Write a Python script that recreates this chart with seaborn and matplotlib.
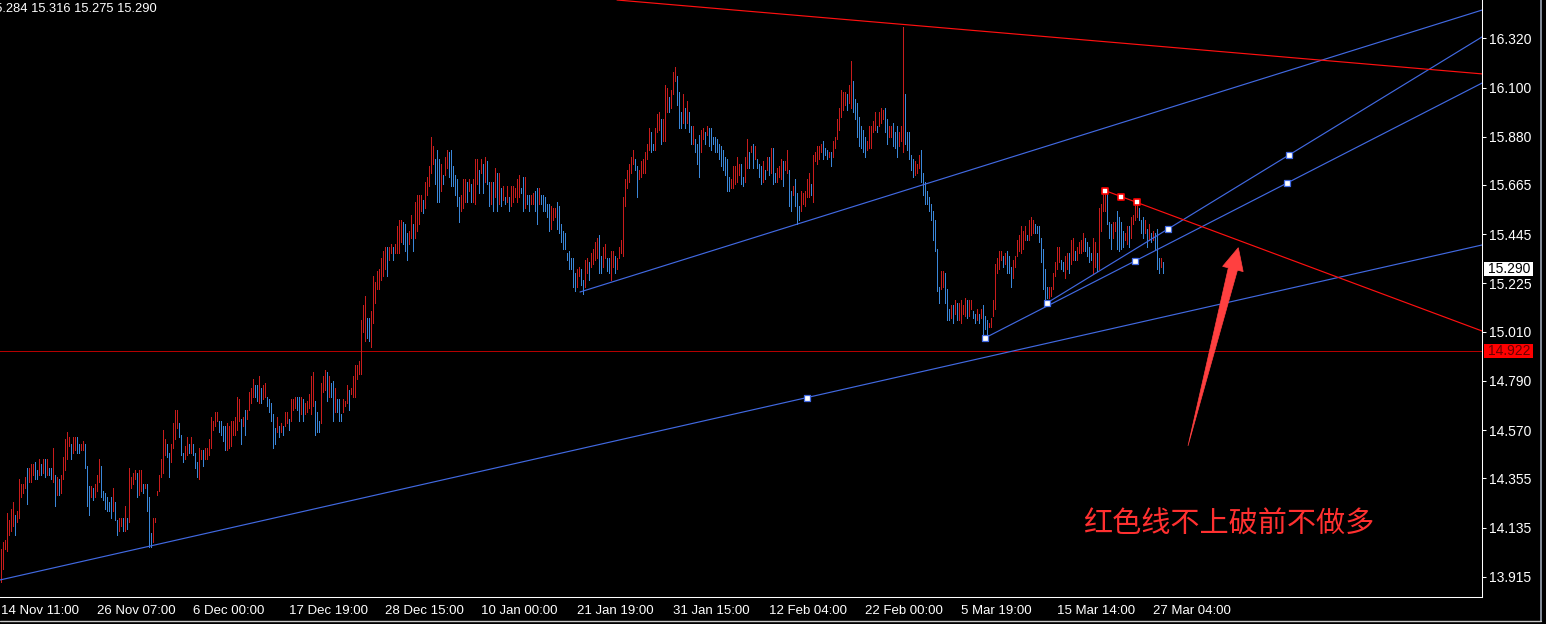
import numpy as np
import pandas as pd
import matplotlib
matplotlib.use("Agg")
import matplotlib.pyplot as plt
import matplotlib.transforms as mtransforms
from matplotlib.patches import Rectangle, Polygon
from matplotlib.lines import Line2D
import seaborn as sns

# ---------------- data ----------------
highs = [
 14.04,14.07,14.08,14.20,14.17,14.22,14.25,14.19,14.21,14.35,14.33,14.33,14.36,14.40,14.40,14.42,14.42,14.43,14.39,14.44,
 14.42,14.44,14.44,14.44,14.40,14.40,14.49,14.37,14.36,14.35,14.37,14.45,14.53,14.56,14.54,14.51,14.54,14.54,14.54,14.51,
 14.51,14.52,14.51,14.41,14.32,14.32,14.31,14.33,14.37,14.44,14.41,14.30,14.29,14.27,14.25,14.27,14.31,14.25,14.17,14.18,
 14.18,14.18,14.23,14.18,14.40,14.36,14.38,14.39,14.38,14.39,14.39,14.33,14.33,14.33,14.27,14.11,14.18,14.18,14.30,14.37,
 14.44,14.57,14.53,14.51,14.47,14.51,14.60,14.66,14.66,14.60,14.55,14.47,14.50,14.54,14.51,14.54,14.51,14.47,14.43,14.49,
 14.48,14.48,14.49,14.49,14.53,14.63,14.61,14.65,14.65,14.61,14.61,14.59,14.59,14.60,14.59,14.61,14.61,14.63,14.72,14.71,
 14.62,14.63,14.66,14.66,14.74,14.76,14.80,14.77,14.77,14.81,14.76,14.77,14.78,14.72,14.71,14.69,14.64,14.58,14.63,14.59,
 14.60,14.59,14.65,14.65,14.62,14.71,14.71,14.72,14.72,14.72,14.72,14.71,14.69,14.70,14.73,14.81,14.83,14.70,14.65,14.61,
 14.78,14.81,14.84,14.83,14.81,14.78,14.79,14.76,14.71,14.71,14.64,14.71,14.70,14.77,14.75,14.76,14.81,14.86,14.86,14.88,
 15.06,15.13,15.17,15.07,15.07,15.10,15.26,15.23,15.28,15.29,15.34,15.37,15.39,15.39,15.39,15.40,15.39,15.40,15.48,15.51,
 15.51,15.50,15.49,15.45,15.46,15.53,15.49,15.59,15.62,15.62,15.62,15.60,15.68,15.70,15.75,15.88,15.84,15.78,15.82,15.78,
 15.76,15.71,15.79,15.82,15.81,15.82,15.75,15.71,15.69,15.61,15.62,15.69,15.69,15.68,15.69,15.67,15.69,15.78,15.78,15.73,
 15.78,15.76,15.79,15.77,15.68,15.68,15.68,15.74,15.72,15.72,15.65,15.66,15.61,15.66,15.61,15.66,15.66,15.65,15.69,15.71,
 15.65,15.70,15.70,15.62,15.62,15.62,15.63,15.64,15.65,15.65,15.62,15.62,15.61,15.58,15.58,15.57,15.56,15.56,15.59,15.57,
 15.49,15.46,15.45,15.36,15.37,15.34,15.34,15.27,15.29,15.30,15.29,15.24,15.33,15.34,15.32,15.36,15.38,15.41,15.43,15.44,
 15.35,15.39,15.40,15.34,15.34,15.37,15.37,15.35,15.34,15.39,15.42,15.61,15.69,15.73,15.76,15.79,15.82,15.78,15.75,15.73,
 15.77,15.78,15.81,15.85,15.92,15.90,15.85,15.92,15.98,15.99,15.96,15.96,16.11,16.10,16.06,16.09,16.17,16.19,16.15,16.08,
 15.99,16.07,16.01,16.04,15.99,15.93,15.93,15.87,15.85,15.89,15.91,15.92,15.90,15.93,15.92,15.92,15.88,15.88,15.87,15.85,
 15.84,15.82,15.79,15.78,15.70,15.69,15.75,15.75,15.79,15.76,15.76,15.70,15.79,15.87,15.81,15.84,15.85,15.84,15.78,15.76,
 15.75,15.77,15.73,15.79,15.79,15.83,15.83,15.72,15.74,15.75,15.78,15.77,15.77,15.82,15.73,15.64,15.66,15.69,15.63,15.57,
 15.64,15.63,15.64,15.69,15.72,15.67,15.80,15.81,15.84,15.84,15.85,15.86,15.83,15.82,15.81,15.81,15.86,15.88,15.96,16.01,
 16.09,16.08,16.08,16.07,16.11,16.22,16.13,16.05,16.03,15.97,15.93,15.91,15.88,15.86,15.93,15.93,15.95,15.99,15.93,15.99,
 16.01,16.00,16.01,15.96,15.93,15.93,15.94,15.90,15.93,15.90,15.93,16.37,16.07,15.90,15.90,15.80,15.78,15.77,15.76,15.80,
 15.82,15.72,15.68,15.64,15.61,15.58,15.55,15.51,15.38,15.21,15.28,15.28,15.27,15.20,15.11,15.13,15.13,15.15,15.14,15.14,
 15.15,15.13,15.16,15.15,15.15,15.15,15.10,15.09,15.11,15.09,15.11,15.13,15.08,15.06,15.05,15.07,15.15,15.31,15.34,15.37,
 15.37,15.35,15.36,15.37,15.35,15.30,15.33,15.35,15.42,15.44,15.48,15.46,15.48,15.44,15.51,15.52,15.51,15.49,15.48,15.48,
 15.43,15.38,15.29,15.21,15.21,15.21,15.27,15.32,15.39,15.39,15.33,15.32,15.35,15.36,15.36,15.42,15.43,15.37,15.39,15.41,
 15.42,15.45,15.43,15.41,15.39,15.36,15.43,15.41,15.36,15.56,15.58,15.64,15.64,15.63,15.50,15.49,15.50,15.50,15.55,15.52,
 15.50,15.46,15.45,15.48,15.48,15.52,15.53,15.59,15.58,15.56,15.51,15.52,15.51,15.47,15.49,15.45,15.46,15.45,15.47,15.34,
 15.34,15.32,
]
lows = [
 13.89,13.95,14.04,14.03,14.10,14.12,14.14,14.10,14.16,14.18,14.27,14.29,14.31,14.24,14.34,14.34,14.37,14.35,14.35,14.37,
 14.37,14.38,14.36,14.37,14.37,14.35,14.34,14.23,14.28,14.28,14.29,14.35,14.39,14.44,14.50,14.44,14.47,14.48,14.47,14.47,
 14.48,14.48,14.40,14.23,14.19,14.27,14.26,14.27,14.30,14.34,14.27,14.26,14.22,14.21,14.21,14.18,14.21,14.17,14.10,14.12,
 14.14,14.12,14.12,14.13,14.16,14.31,14.33,14.35,14.27,14.28,14.30,14.29,14.31,14.21,14.05,14.05,14.07,14.16,14.28,14.30,
 14.36,14.38,14.46,14.45,14.36,14.43,14.49,14.53,14.58,14.54,14.46,14.43,14.44,14.46,14.47,14.47,14.46,14.40,14.36,14.35,
 14.44,14.41,14.44,14.44,14.46,14.49,14.57,14.59,14.61,14.56,14.55,14.52,14.48,14.48,14.49,14.50,14.55,14.55,14.57,14.61,
 14.51,14.59,14.55,14.62,14.66,14.69,14.72,14.72,14.70,14.69,14.69,14.71,14.72,14.68,14.65,14.61,14.49,14.51,14.56,14.54,
 14.56,14.55,14.59,14.60,14.57,14.61,14.66,14.67,14.66,14.61,14.64,14.61,14.64,14.65,14.67,14.64,14.68,14.55,14.56,14.56,
 14.60,14.74,14.75,14.70,14.72,14.72,14.61,14.65,14.65,14.61,14.61,14.65,14.68,14.69,14.66,14.73,14.72,14.72,14.80,14.82,
 14.82,15.01,14.97,14.98,14.97,14.94,15.05,15.14,15.20,15.20,15.24,15.26,15.29,15.26,15.33,15.36,15.33,15.36,15.36,15.36,
 15.41,15.40,15.37,15.33,15.40,15.43,15.37,15.43,15.46,15.49,15.55,15.54,15.56,15.62,15.66,15.72,15.76,15.67,15.59,15.59,
 15.64,15.67,15.71,15.74,15.70,15.66,15.66,15.62,15.57,15.50,15.55,15.56,15.59,15.59,15.64,15.59,15.59,15.58,15.67,15.63,
 15.72,15.63,15.68,15.67,15.57,15.58,15.55,15.61,15.55,15.58,15.57,15.60,15.58,15.59,15.55,15.57,15.59,15.61,15.59,15.61,
 15.63,15.55,15.56,15.58,15.55,15.58,15.58,15.55,15.49,15.58,15.58,15.55,15.55,15.52,15.46,15.47,15.51,15.52,15.47,15.45,
 15.41,15.38,15.38,15.33,15.29,15.29,15.21,15.19,15.21,15.26,15.22,15.18,15.21,15.27,15.24,15.30,15.31,15.33,15.34,15.27,
 15.27,15.30,15.34,15.28,15.27,15.24,15.30,15.27,15.29,15.34,15.36,15.35,15.57,15.65,15.68,15.72,15.76,15.73,15.61,15.69,
 15.70,15.72,15.72,15.78,15.82,15.81,15.82,15.82,15.90,15.91,15.85,15.86,15.86,15.99,15.99,16.01,16.07,16.13,16.02,15.92,
 15.92,15.94,15.92,15.94,15.90,15.85,15.85,15.81,15.76,15.70,15.81,15.87,15.85,15.89,15.84,15.82,15.85,15.81,15.81,15.78,
 15.75,15.73,15.71,15.64,15.64,15.65,15.65,15.67,15.68,15.71,15.67,15.66,15.68,15.74,15.74,15.81,15.74,15.78,15.74,15.70,
 15.67,15.68,15.69,15.73,15.71,15.72,15.67,15.68,15.68,15.70,15.69,15.66,15.73,15.72,15.57,15.55,15.62,15.57,15.49,15.51,
 15.55,15.58,15.57,15.61,15.61,15.62,15.59,15.77,15.76,15.78,15.81,15.78,15.80,15.78,15.79,15.75,15.79,15.83,15.87,15.91,
 15.97,16.00,16.02,16.00,16.03,16.01,15.99,15.96,15.88,15.84,15.83,15.81,15.79,15.82,15.83,15.83,15.90,15.91,15.90,15.93,
 15.94,15.96,15.90,15.85,15.88,15.88,15.84,15.83,15.79,15.84,15.86,15.81,15.85,15.82,15.78,15.73,15.70,15.71,15.72,15.74,
 15.68,15.62,15.58,15.58,15.55,15.51,15.42,15.37,15.19,15.14,15.20,15.21,15.14,15.06,15.06,15.07,15.05,15.09,15.06,15.06,
 15.05,15.09,15.08,15.07,15.08,15.11,15.07,15.05,15.06,15.05,15.07,14.99,15.02,15.00,15.03,15.03,15.08,15.11,15.27,15.29,
 15.33,15.30,15.31,15.27,15.27,15.21,15.25,15.30,15.35,15.37,15.36,15.38,15.42,15.42,15.42,15.44,15.45,15.45,15.45,15.41,
 15.32,15.20,15.14,15.16,15.16,15.17,15.20,15.26,15.29,15.32,15.29,15.28,15.25,15.29,15.27,15.31,15.33,15.33,15.33,15.36,
 15.36,15.37,15.37,15.35,15.32,15.33,15.27,15.30,15.28,15.29,15.46,15.55,15.55,15.49,15.43,15.38,15.43,15.46,15.38,15.37,
 15.38,15.39,15.42,15.40,15.39,15.43,15.49,15.51,15.52,15.51,15.45,15.43,15.45,15.39,15.42,15.41,15.42,15.38,15.29,15.27,
 15.30,15.27,
]

x_tick_bars = [0, 48, 96, 144, 192, 240, 288, 336, 384, 432, 480, 528, 576]
x_tick_labels = ["14 Nov 11:00", "26 Nov 07:00", "6 Dec 00:00", "17 Dec 19:00", "28 Dec 15:00",
                 "10 Jan 00:00", "21 Jan 19:00", "31 Jan 15:00", "12 Feb 04:00", "22 Feb 00:00",
                 "5 Mar 19:00", "15 Mar 14:00", "27 Mar 04:00"]
y_ticks = [16.320, 16.100, 15.880, 15.665, 15.445, 15.225, 15.010, 14.790, 14.570, 14.355, 14.135, 13.915]

ohlc_text = "15.284 15.316 15.275 15.290"
last_price = 15.290
level_price = 14.922

# trend lines: name -> (bar0, price0, bar1, price1)
blue_lines = {
    "long_low":  (-0.65, 13.901, 740.35, 15.397),
    "upper":     (289.35, 15.187, 740.35, 16.446),
    "chan_a":    (491.85, 14.982, 740.35, 16.120),
    "chan_b":    (522.85, 15.138, 740.35, 16.326),
}
red_lines = {
    "top":       (307.85, 16.491, 740.35, 16.161),
    "down":      (551.85, 15.640, 740.35, 15.013),
}
blue_marker_bars = [402.85, 491.85, 566.85, 642.85, 522.85, 583.35, 643.85]
blue_marker_prices = [14.714, 14.982, 15.325, 15.673, 15.138, 15.468, 15.798]
red_marker_bars = [551.85, 559.85, 567.85]
red_marker_prices = [15.640, 15.613, 15.587]

arrow_tail = (593.35, 14.500)
arrow_tip = (618.5, 15.385)
note_text = "红色线不上破前不做多"
note_pos = (613.85, 14.147)

# ---------------- style ----------------
sns.set_theme(style="dark", rc={
    "axes.facecolor": "black", "figure.facecolor": "black",
    "savefig.facecolor": "black", "axes.grid": False,
})
plt.rcParams["font.family"] = ["Liberation Sans", "DejaVu Sans"]

BLUE = "#4169e1"
RED_LINE = "#ff1010"
BAR_UP = "#c81c1c"
BAR_DN = "#3a86d8"

W, H = 1546, 624
fig = plt.figure(figsize=(W / 100, H / 100), dpi=100)
ax = fig.add_axes([0, 27 / H, 1482 / W, 597 / H])
ax.set_facecolor("black")

n = len(highs)
idx = np.arange(n)
hi = np.array(highs)
lo = np.array(lows)
mid = (hi + lo) / 2
up = np.r_[True, np.diff(mid) >= 0]
cols = np.where(up, BAR_UP, BAR_DN)
ax.vlines(idx, lo, hi, colors=cols, linewidth=0.5, antialiased=False, zorder=2)

# level line
ax.axhline(level_price, color="#b40000", lw=0.5, antialiased=False, zorder=1)

# trend lines via seaborn
def lines_df(d):
    rows = []
    for k, (x0, y0, x1, y1) in d.items():
        rows.append((k, x0, y0))
        rows.append((k, x1, y1))
    return pd.DataFrame(rows, columns=["line", "bar", "price"])

sns.lineplot(data=lines_df(blue_lines), x="bar", y="price", units="line", estimator=None,
             sort=False, color=BLUE, lw=0.85, ax=ax, zorder=3)
sns.lineplot(data=lines_df(red_lines), x="bar", y="price", units="line", estimator=None,
             sort=False, color=RED_LINE, lw=0.85, ax=ax, zorder=3)

sns.scatterplot(x=blue_marker_bars, y=blue_marker_prices, marker="s", s=16, color="white",
                edgecolor=BLUE, linewidth=0.9, ax=ax, zorder=5)
sns.scatterplot(x=red_marker_bars, y=red_marker_prices, marker="s", s=16, color="white",
                edgecolor="#ff0000", linewidth=1.2, ax=ax, zorder=5)

ax.set_xlim(-0.65, 740.35)
ax.set_ylim(13.825, 16.491)

# arrow polygon (built in pixel space from its two data anchors)
t = ax.transData.transform(arrow_tail)
p = ax.transData.transform(arrow_tip)
d = (p - t) / np.linalg.norm(p - t)
nrm = np.array([d[1], -d[0]])
B = p - 22 * d
pts = np.array([p, B + 10.6 * nrm, B + 4.7 * nrm, t, B - 4.7 * nrm, B - 10.6 * nrm])
pts_data = ax.transData.inverted().transform(pts)
ax.add_patch(Polygon(pts_data, closed=True, fc="#ff4040", ec="#ff4040", lw=0.5, zorder=6))

ax.text(note_pos[0], note_pos[1], note_text, color="#ff3030", fontsize=21,
        family=["Noto Sans CJK SC", "DejaVu Sans"], ha="center", va="center", zorder=6)

# axes
ax.yaxis.tick_right()
ax.set_yticks(y_ticks)
ax.set_yticklabels([f"{v:.3f}" for v in y_ticks])
ax.set_xticks(x_tick_bars)
ax.set_xticklabels(x_tick_labels)
for lab in ax.get_xticklabels():
    lab.set_horizontalalignment("left")
ax.tick_params(axis="y", colors="white", length=3, width=0.75, pad=2.2, labelsize=10, labelcolor="white")
ax.tick_params(axis="x", colors="white", length=3, width=0.75, pad=2.5, labelsize=9.5, labelcolor="white")
ax.set_xlabel("")
ax.set_ylabel("")
for s in ["top", "left"]:
    ax.spines[s].set_visible(False)
for s in ["right", "bottom"]:
    ax.spines[s].set_visible(True)
    ax.spines[s].set_color("white")
    ax.spines[s].set_linewidth(0.75)

# price boxes on the axis
trans = mtransforms.blended_transform_factory(ax.transAxes, ax.transData)
px_price = (16.491 - 13.825) / 597
for price, fc, tc in [(last_price, "white", "black"), (level_price, "#ff0000", "#6a0000")]:
    ax.add_patch(Rectangle((1484 / 1482, price - 7 * px_price), 49 / 1482, 14 * px_price,
                           transform=trans, fc=fc, ec="none", clip_on=False, zorder=7))
    ax.text(1488 / 1482, price, f"{price:.3f}", transform=trans, color=tc, fontsize=10,
            ha="left", va="center", clip_on=False, zorder=8)

# OHLC text top-left (cut at the left edge as in the original window)
fig.text(-12.5 / W, 1 - 8.5 / H, ohlc_text, color="white", fontsize=9.3, ha="left", va="center")

# window frame lines
fig.add_artist(Line2D([1540.5 / W, 1540.5 / W], [1 - 621 / H, 1], color="#9aa4b4", lw=1.2,
                      transform=fig.transFigure))
fig.add_artist(Line2D([0, 1540.5 / W], [1 - 621 / H, 1 - 621 / H], color="#c8c8c8", lw=1.0,
                      transform=fig.transFigure))

fig.savefig("out.png", dpi=100, facecolor="black")
